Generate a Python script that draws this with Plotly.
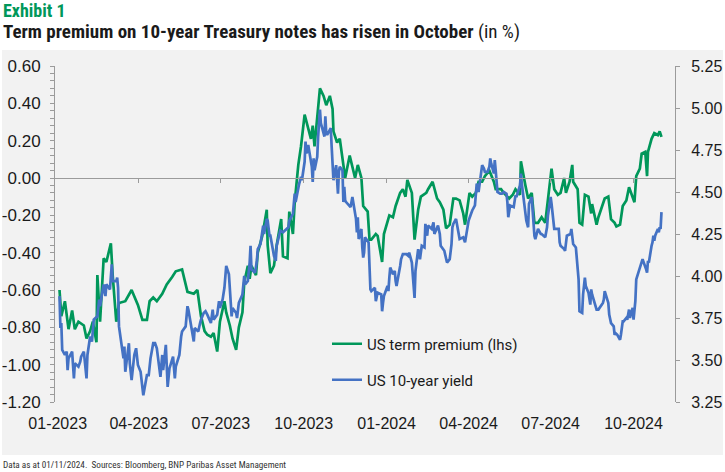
import plotly.graph_objects as go

# ---------------- data ----------------
tp_dates = [
    "2023-01-03", "2023-01-05", "2023-01-09", "2023-01-13", "2023-01-17", "2023-01-20", "2023-01-24", "2023-01-30",
    "2023-02-02", "2023-02-06", "2023-02-09", "2023-02-13", "2023-02-14", "2023-02-17", "2023-02-21", "2023-02-24",
    "2023-03-01", "2023-03-03", "2023-03-07", "2023-03-10", "2023-03-17", "2023-03-24", "2023-03-31",
    "2023-04-05", "2023-04-10", "2023-04-13", "2023-04-17", "2023-04-21", "2023-04-27",
    "2023-05-02", "2023-05-08", "2023-05-12", "2023-05-19", "2023-05-25",
    "2023-06-01", "2023-06-05", "2023-06-09", "2023-06-13", "2023-06-16", "2023-06-20", "2023-06-23", "2023-06-27", "2023-06-30",
    "2023-07-05", "2023-07-07", "2023-07-11", "2023-07-14", "2023-07-18", "2023-07-21", "2023-07-25", "2023-07-27", "2023-07-31",
    "2023-08-02", "2023-08-04", "2023-08-09", "2023-08-11", "2023-08-16", "2023-08-21", "2023-08-22", "2023-08-25", "2023-08-29",
    "2023-09-01", "2023-09-06", "2023-09-08", "2023-09-13", "2023-09-15", "2023-09-19", "2023-09-21", "2023-09-25", "2023-09-28",
    "2023-10-02", "2023-10-05", "2023-10-09", "2023-10-11", "2023-10-13", "2023-10-19", "2023-10-23", "2023-10-26", "2023-10-30",
    "2023-11-02", "2023-11-03", "2023-11-07", "2023-11-10", "2023-11-14", "2023-11-16", "2023-11-21", "2023-11-27", "2023-11-30",
    "2023-12-04", "2023-12-06", "2023-12-11", "2023-12-13", "2023-12-15", "2023-12-20", "2023-12-22", "2023-12-27", "2023-12-29",
    "2024-01-04", "2024-01-08", "2024-01-11", "2024-01-16", "2024-01-19", "2024-01-22", "2024-01-24", "2024-01-29",
    "2024-02-01", "2024-02-05", "2024-02-08", "2024-02-14", "2024-02-16", "2024-02-21", "2024-02-26", "2024-02-29",
    "2024-03-04", "2024-03-07", "2024-03-11", "2024-03-15", "2024-03-18", "2024-03-22", "2024-03-26", "2024-03-28",
    "2024-04-02", "2024-04-05", "2024-04-09", "2024-04-12", "2024-04-16", "2024-04-19", "2024-04-24", "2024-04-29",
    "2024-05-01", "2024-05-07", "2024-05-10", "2024-05-16", "2024-05-20", "2024-05-23", "2024-05-28", "2024-05-29",
    "2024-06-03", "2024-06-06", "2024-06-10", "2024-06-13", "2024-06-17", "2024-06-21", "2024-06-25", "2024-06-28",
    "2024-07-02", "2024-07-05", "2024-07-09", "2024-07-12", "2024-07-16", "2024-07-18", "2024-07-22", "2024-07-25", "2024-07-26", "2024-07-31",
    "2024-08-02", "2024-08-05", "2024-08-08", "2024-08-12", "2024-08-15", "2024-08-16", "2024-08-21", "2024-08-23", "2024-08-30",
    "2024-09-03", "2024-09-06", "2024-09-10", "2024-09-12", "2024-09-16", "2024-09-19", "2024-09-23", "2024-09-26",
    "2024-10-02", "2024-10-04", "2024-10-08", "2024-10-10", "2024-10-14", "2024-10-16", "2024-10-17", "2024-10-21", "2024-10-24", "2024-10-28", "2024-10-30",
    "2024-11-01",
]
tp_values = [
    -0.60, -0.74, -0.66, -0.81, -0.71, -0.81, -0.77, -0.79,
    -0.86, -0.82, -0.77, -0.88, -0.52, -0.77, -0.43, -0.45,
    -0.35, -0.52, -0.77, -0.67, -0.66, -0.60, -0.68,
    -0.76, -0.76, -0.66, -0.64, -0.66, -0.62,
    -0.57, -0.53, -0.50, -0.49, -0.61,
    -0.62, -0.60, -0.74, -0.82, -0.84, -0.85, -0.83, -0.93, -0.77,
    -0.66, -0.72, -0.79, -0.86, -0.92, -0.80, -0.72, -0.56, -0.47,
    -0.54, -0.47, -0.52, -0.40, -0.31, -0.17, -0.36, -0.51, -0.47,
    -0.36, -0.22, -0.42, -0.43, -0.18, -0.30, -0.13, 0.07, 0.17,
    0.34, 0.28, 0.21, 0.28, 0.17, 0.48, 0.44, 0.39, 0.44,
    0.37, 0.25, 0.19, 0.21, 0.07, 0.00, 0.12, 0.00, 0.07,
    0.00, -0.15, -0.18, -0.33, -0.33, -0.30, -0.31, -0.45, -0.30,
    -0.20, -0.21, -0.15, -0.08, -0.06, -0.10, -0.01, -0.08,
    -0.33, -0.17, -0.10, -0.08, -0.06, -0.02, -0.11, -0.13,
    -0.17, -0.27, -0.25, -0.11, -0.11, -0.12, -0.19, -0.25,
    -0.08, -0.10, -0.08, -0.02, -0.02, 0.01, 0.04, -0.02,
    -0.06, -0.06, -0.08, -0.11, -0.09, -0.06, -0.09, 0.09,
    -0.04, -0.11, -0.08, -0.24, -0.24, -0.21, -0.24, -0.11,
    0.05, -0.06, -0.09, -0.08, 0.00, -0.08, -0.02, 0.07, -0.02, -0.06,
    -0.24, -0.25, -0.09, -0.10, -0.19, -0.14, -0.25, -0.21, -0.11,
    -0.10, -0.22, -0.24, -0.26, -0.25, -0.15, -0.12, -0.05,
    -0.13, 0.01, 0.05, 0.13, 0.14, 0.01, 0.14, 0.21, 0.24, 0.23, 0.25,
    0.22,
]

y10_dates = [
    "2023-01-03", "2023-01-04", "2023-01-05", "2023-01-06", "2023-01-09", "2023-01-11", "2023-01-12", "2023-01-13", "2023-01-17", "2023-01-19", "2023-01-20", "2023-01-24", "2023-01-26", "2023-01-27", "2023-01-30",
    "2023-02-01", "2023-02-02", "2023-02-03", "2023-02-06", "2023-02-08", "2023-02-10", "2023-02-14", "2023-02-16", "2023-02-17", "2023-02-21", "2023-02-23", "2023-02-24", "2023-02-28",
    "2023-03-01", "2023-03-02", "2023-03-03", "2023-03-07", "2023-03-08", "2023-03-09", "2023-03-10", "2023-03-13", "2023-03-15", "2023-03-16", "2023-03-17", "2023-03-21", "2023-03-22", "2023-03-24", "2023-03-27", "2023-03-29", "2023-03-31",
    "2023-04-03", "2023-04-05", "2023-04-06", "2023-04-10", "2023-04-12", "2023-04-14", "2023-04-17", "2023-04-19", "2023-04-21", "2023-04-25", "2023-04-27", "2023-04-28",
    "2023-05-01", "2023-05-03", "2023-05-04", "2023-05-05", "2023-05-09", "2023-05-11", "2023-05-12", "2023-05-16", "2023-05-18", "2023-05-19", "2023-05-23", "2023-05-25", "2023-05-26", "2023-05-31",
    "2023-06-01", "2023-06-02", "2023-06-06", "2023-06-08", "2023-06-09", "2023-06-12", "2023-06-14", "2023-06-16", "2023-06-20", "2023-06-22", "2023-06-23", "2023-06-27", "2023-06-29", "2023-06-30",
    "2023-07-03", "2023-07-05", "2023-07-06", "2023-07-07", "2023-07-10", "2023-07-12", "2023-07-13", "2023-07-14", "2023-07-18", "2023-07-19", "2023-07-21", "2023-07-25", "2023-07-27", "2023-07-28", "2023-07-31",
    "2023-08-02", "2023-08-03", "2023-08-04", "2023-08-08", "2023-08-10", "2023-08-11", "2023-08-14", "2023-08-16", "2023-08-17", "2023-08-18", "2023-08-21", "2023-08-22", "2023-08-24", "2023-08-25", "2023-08-29", "2023-08-31",
    "2023-09-01", "2023-09-05", "2023-09-07", "2023-09-08", "2023-09-12", "2023-09-14", "2023-09-15", "2023-09-19", "2023-09-21", "2023-09-22", "2023-09-26", "2023-09-28", "2023-09-29",
    "2023-10-02", "2023-10-03", "2023-10-04", "2023-10-06", "2023-10-10", "2023-10-11", "2023-10-12", "2023-10-13", "2023-10-16", "2023-10-17", "2023-10-18", "2023-10-19", "2023-10-20", "2023-10-23", "2023-10-24", "2023-10-25", "2023-10-26", "2023-10-27", "2023-10-31",
    "2023-11-01", "2023-11-02", "2023-11-03", "2023-11-06", "2023-11-07", "2023-11-08", "2023-11-09", "2023-11-10", "2023-11-13", "2023-11-14", "2023-11-15", "2023-11-16", "2023-11-17", "2023-11-21", "2023-11-22", "2023-11-24", "2023-11-28", "2023-11-29", "2023-11-30",
    "2023-12-01", "2023-12-04", "2023-12-05", "2023-12-06", "2023-12-07", "2023-12-08", "2023-12-12", "2023-12-13", "2023-12-14", "2023-12-15", "2023-12-19", "2023-12-20", "2023-12-22", "2023-12-26", "2023-12-27", "2023-12-28", "2023-12-29",
    "2024-01-02", "2024-01-03", "2024-01-04", "2024-01-05", "2024-01-08", "2024-01-10", "2024-01-11", "2024-01-12", "2024-01-16", "2024-01-17", "2024-01-19", "2024-01-23", "2024-01-25", "2024-01-26", "2024-01-29", "2024-01-31",
    "2024-02-01", "2024-02-02", "2024-02-05", "2024-02-07", "2024-02-09", "2024-02-12", "2024-02-13", "2024-02-15", "2024-02-16", "2024-02-20", "2024-02-22", "2024-02-23", "2024-02-27", "2024-02-29",
    "2024-03-01", "2024-03-05", "2024-03-07", "2024-03-08", "2024-03-11", "2024-03-13", "2024-03-14", "2024-03-15", "2024-03-18", "2024-03-19", "2024-03-20", "2024-03-22", "2024-03-26", "2024-03-28",
    "2024-04-01", "2024-04-03", "2024-04-05", "2024-04-08", "2024-04-10", "2024-04-12", "2024-04-15", "2024-04-16", "2024-04-18", "2024-04-19", "2024-04-22", "2024-04-24", "2024-04-25", "2024-04-26", "2024-04-29", "2024-04-30",
    "2024-05-01", "2024-05-02", "2024-05-03", "2024-05-06", "2024-05-08", "2024-05-10", "2024-05-13", "2024-05-14", "2024-05-15", "2024-05-17", "2024-05-21", "2024-05-23", "2024-05-24", "2024-05-28", "2024-05-29", "2024-05-30", "2024-05-31",
    "2024-06-03", "2024-06-04", "2024-06-06", "2024-06-07", "2024-06-10", "2024-06-12", "2024-06-13", "2024-06-14", "2024-06-17", "2024-06-20", "2024-06-21", "2024-06-25", "2024-06-27", "2024-06-28",
    "2024-07-01", "2024-07-02", "2024-07-05", "2024-07-08", "2024-07-10", "2024-07-11", "2024-07-12", "2024-07-16", "2024-07-17", "2024-07-19", "2024-07-23", "2024-07-24", "2024-07-26", "2024-07-29", "2024-07-31",
    "2024-08-01", "2024-08-02", "2024-08-05", "2024-08-06", "2024-08-08", "2024-08-09", "2024-08-12", "2024-08-14", "2024-08-15", "2024-08-16", "2024-08-20", "2024-08-21", "2024-08-23", "2024-08-26", "2024-08-28", "2024-08-29", "2024-08-30",
    "2024-09-03", "2024-09-04", "2024-09-06", "2024-09-09", "2024-09-10", "2024-09-11", "2024-09-13", "2024-09-16", "2024-09-17", "2024-09-18", "2024-09-19", "2024-09-20", "2024-09-23", "2024-09-24", "2024-09-25", "2024-09-26", "2024-09-27", "2024-09-30",
    "2024-10-01", "2024-10-02", "2024-10-03", "2024-10-04", "2024-10-07", "2024-10-09", "2024-10-10", "2024-10-11", "2024-10-15", "2024-10-16", "2024-10-17", "2024-10-18", "2024-10-21", "2024-10-22", "2024-10-23", "2024-10-24", "2024-10-25", "2024-10-28", "2024-10-29", "2024-10-30", "2024-10-31",
    "2024-11-01",
]
y10_values = [
    3.88, 3.69, 3.72, 3.56, 3.53, 3.55, 3.44, 3.51, 3.55, 3.39, 3.48, 3.46, 3.49, 3.52, 3.55,
    3.41, 3.39, 3.53, 3.64, 3.61, 3.74, 3.76, 3.86, 3.82, 3.95, 3.88, 3.95, 3.92,
    4.01, 4.07, 3.97, 3.97, 3.99, 3.93, 3.70, 3.57, 3.51, 3.58, 3.43, 3.60, 3.48, 3.38, 3.53, 3.57, 3.47,
    3.43, 3.31, 3.29, 3.41, 3.41, 3.51, 3.60, 3.60, 3.57, 3.40, 3.53, 3.44,
    3.59, 3.34, 3.38, 3.45, 3.52, 3.39, 3.46, 3.53, 3.64, 3.67, 3.70, 3.82, 3.80, 3.64,
    3.61, 3.69, 3.67, 3.72, 3.74, 3.78, 3.79, 3.77, 3.72, 3.80, 3.74, 3.77, 3.85, 3.81,
    3.86, 3.93, 4.03, 4.06, 4.01, 3.86, 3.76, 3.81, 3.78, 3.75, 3.84, 3.89, 4.00, 3.95, 3.97,
    4.08, 4.18, 4.04, 4.02, 4.09, 4.16, 4.19, 4.26, 4.30, 4.25, 4.34, 4.33, 4.24, 4.24, 4.12, 4.09,
    4.18, 4.27, 4.26, 4.26, 4.28, 4.29, 4.33, 4.37, 4.49, 4.44, 4.55, 4.59, 4.57,
    4.68, 4.80, 4.73, 4.78, 4.65, 4.56, 4.70, 4.63, 4.71, 4.83, 4.91, 4.99, 4.91, 4.86, 4.83, 4.95, 4.85, 4.84, 4.88,
    4.77, 4.67, 4.57, 4.66, 4.57, 4.49, 4.62, 4.65, 4.63, 4.44, 4.53, 4.45, 4.44, 4.41, 4.41, 4.47, 4.34, 4.26, 4.35,
    4.22, 4.28, 4.17, 4.11, 4.14, 4.23, 4.20, 4.02, 3.92, 3.91, 3.93, 3.85, 3.90, 3.89, 3.79, 3.84, 3.88,
    3.94, 3.91, 3.99, 4.05, 4.01, 4.03, 3.97, 3.94, 4.06, 4.10, 4.13, 4.13, 4.12, 4.14, 4.08, 3.91,
    3.87, 4.03, 4.16, 4.10, 4.18, 4.17, 4.31, 4.24, 4.30, 4.28, 4.32, 4.25, 4.30, 4.25,
    4.18, 4.15, 4.09, 4.08, 4.10, 4.19, 4.29, 4.31, 4.34, 4.30, 4.28, 4.22, 4.23, 4.20,
    4.33, 4.36, 4.39, 4.42, 4.55, 4.50, 4.61, 4.66, 4.64, 4.62, 4.62, 4.65, 4.70, 4.67, 4.61, 4.69,
    4.63, 4.58, 4.50, 4.49, 4.49, 4.50, 4.49, 4.44, 4.35, 4.42, 4.41, 4.48, 4.47, 4.54, 4.61, 4.55, 4.51,
    4.40, 4.33, 4.29, 4.43, 4.47, 4.31, 4.24, 4.22, 4.28, 4.25, 4.25, 4.23, 4.29, 4.36,
    4.47, 4.43, 4.28, 4.28, 4.28, 4.20, 4.18, 4.16, 4.15, 4.24, 4.25, 4.28, 4.19, 4.17, 4.03,
    3.98, 3.79, 3.78, 3.89, 3.99, 3.94, 3.90, 3.83, 3.92, 3.89, 3.81, 3.80, 3.80, 3.82, 3.84, 3.86, 3.91,
    3.84, 3.77, 3.72, 3.70, 3.65, 3.66, 3.65, 3.62, 3.65, 3.71, 3.73, 3.73, 3.75, 3.74, 3.79, 3.80, 3.75, 3.81,
    3.74, 3.79, 3.85, 3.98, 4.03, 4.07, 4.09, 4.10, 4.04, 4.02, 4.09, 4.08, 4.18, 4.20, 4.24, 4.21, 4.24, 4.28, 4.26, 4.29, 4.28,
    4.38,
]
assert len(tp_dates) == len(tp_values)
assert len(y10_dates) == len(y10_values)

x_tick_dates = ["2023-01-01", "2023-04-01", "2023-07-01", "2023-10-01",
                "2024-01-01", "2024-04-01", "2024-07-01", "2024-10-01"]
x_tick_labels = ["01-2023", "04-2023", "07-2023", "10-2023",
                 "01-2024", "04-2024", "07-2024", "10-2024"]
left_ticks = [-1.2, -1.0, -0.8, -0.6, -0.4, -0.2, 0.0, 0.2, 0.4, 0.6]
left_labels = ["-1.20", "-1.00", "-0.80", "-0.60", "-0.40", "-0.20", "0.00", "0.20", "0.40", "0.60"]
right_ticks = [3.25, 3.50, 3.75, 4.00, 4.25, 4.50, 4.75, 5.00, 5.25]
right_labels = ["3.25", "3.50", "3.75", "4.00", "4.25", "4.50", "4.75", "5.00", "5.25"]

series_names = ["US term premium (lhs)", "US 10-year yield"]
title_exhibit = "Exhibit 1"
title_main = "Term premium on 10-year Treasury notes has risen in October"
title_unit = " (in %)"
footer_text = "Data as at 01/11/2024.  Sources: Bloomberg, BNP Paribas Asset Management"

# ---------------- layout helpers ----------------
W, H = 725, 472
L, R, T, B = 55, 50, 66, 70


def px(xp):
    return (xp - L) / (W - L - R)


def py(yp):
    return (H - B - yp) / (H - T - B)


GREEN = "#00975a"
BLUE = "#4472c4"
AXIS = "#9b9b9b"
TXT = "#1a1a1a"
TICKFONT = "Liberation Sans, Arial, sans-serif"
NARROW = "Liberation Sans Narrow, Roboto Condensed, DejaVu Sans Condensed, Roboto, sans-serif"
x_range = ["2022-12-29", "2024-11-16"]

fig = go.Figure()
fig.add_trace(go.Scatter(
    x=tp_dates, y=tp_values, name=series_names[0], mode="lines",
    line=dict(color=GREEN, width=2.7), yaxis="y", legend="legend",
    hoverinfo="skip"))
fig.add_trace(go.Scatter(
    x=y10_dates, y=y10_values, name=series_names[1], mode="lines",
    line=dict(color=BLUE, width=2.7), yaxis="y2", legend="legend2",
    hoverinfo="skip"))
# carrier trace for the zero-line axis (x2)
fig.add_trace(go.Scatter(x=[x_tick_dates[0]], y=[None], xaxis="x2", yaxis="y",
                         showlegend=False, hoverinfo="skip"))

fig.update_layout(
    width=W, height=H, autosize=False,
    margin=dict(l=L, r=R, t=T, b=B, pad=0, autoexpand=False),
    paper_bgcolor="white", plot_bgcolor="rgba(0,0,0,0)",
    showlegend=True, hovermode=False,
    xaxis=dict(type="date", range=x_range, tickmode="array",
               tickvals=x_tick_dates, ticktext=x_tick_labels,
               ticks="", showline=False, showgrid=False, zeroline=False,
               automargin=False,
               tickfont=dict(family=TICKFONT, size=16, color=TXT),
               ticklabelstandoff=10),
    xaxis2=dict(type="date", range=x_range, overlaying="x", anchor="free",
                position=1.2 / 1.8, tickmode="array", tickvals=x_tick_dates[1:],
                showticklabels=False, ticks="outside", ticklen=4, tickwidth=1,
                tickcolor=AXIS, showline=True, linecolor=AXIS, linewidth=1,
                showgrid=False, zeroline=False, automargin=False),
    yaxis=dict(range=[-1.2, 0.6], tickmode="array", tickvals=left_ticks,
               ticktext=left_labels, ticks="outside", ticklen=4, tickwidth=1,
               tickcolor=AXIS, showline=True, linecolor=AXIS, linewidth=1,
               showgrid=False, zeroline=False, automargin=False,
               minor=dict(dtick=0.04, tick0=0, ticks="outside", ticklen=4,
                          tickcolor=AXIS, showgrid=False),
               tickfont=dict(family=TICKFONT, size=17, color=TXT),
               ticklabelstandoff=6),
    yaxis2=dict(range=[3.25, 5.25], overlaying="y", side="right",
                tickmode="array", tickvals=right_ticks, ticktext=right_labels,
                ticks="outside", ticklen=4, tickwidth=1, tickcolor=AXIS,
                showline=True, linecolor=AXIS, linewidth=1,
                showgrid=False, zeroline=False, automargin=False,
                tickfont=dict(family=TICKFONT, size=16, color=TXT),
                ticklabelstandoff=8),
    legend=dict(x=px(327), y=py(344), xanchor="left", yanchor="middle",
                bgcolor="rgba(0,0,0,0)", borderwidth=0,
                font=dict(family="Roboto, sans-serif", size=15, color=TXT)),
    legend2=dict(x=px(327), y=py(380), xanchor="left", yanchor="middle",
                 bgcolor="rgba(0,0,0,0)", borderwidth=0,
                 font=dict(family="Roboto, sans-serif", size=15, color=TXT)),
    shapes=[dict(type="rect", xref="paper", yref="paper",
                 x0=px(2), x1=px(723), y0=py(455), y1=py(50),
                 fillcolor="#f2f2f2", line=dict(width=0), layer="below")],
    annotations=[
        dict(text="<b>" + title_exhibit + "</b>", xref="paper", yref="paper",
             x=px(1), y=py(11), xanchor="left", yanchor="middle", showarrow=False,
             font=dict(family=NARROW, size=18, color=GREEN)),
        dict(text="<b>" + title_main + "</b>" + title_unit, xref="paper", yref="paper",
             x=px(1), y=py(32), xanchor="left", yanchor="middle", showarrow=False,
             font=dict(family=NARROW, size=19, color=TXT)),
        dict(text=footer_text, xref="paper", yref="paper",
             x=px(1), y=py(464), xanchor="left", yanchor="middle", showarrow=False,
             font=dict(family=NARROW, size=9.2, color="#333333")),
    ],
)

fig.write_html("out.html", config={"displayModeBar": False, "staticPlot": True},
               post_script="document.body.style.margin='0';document.body.style.padding='0';")
